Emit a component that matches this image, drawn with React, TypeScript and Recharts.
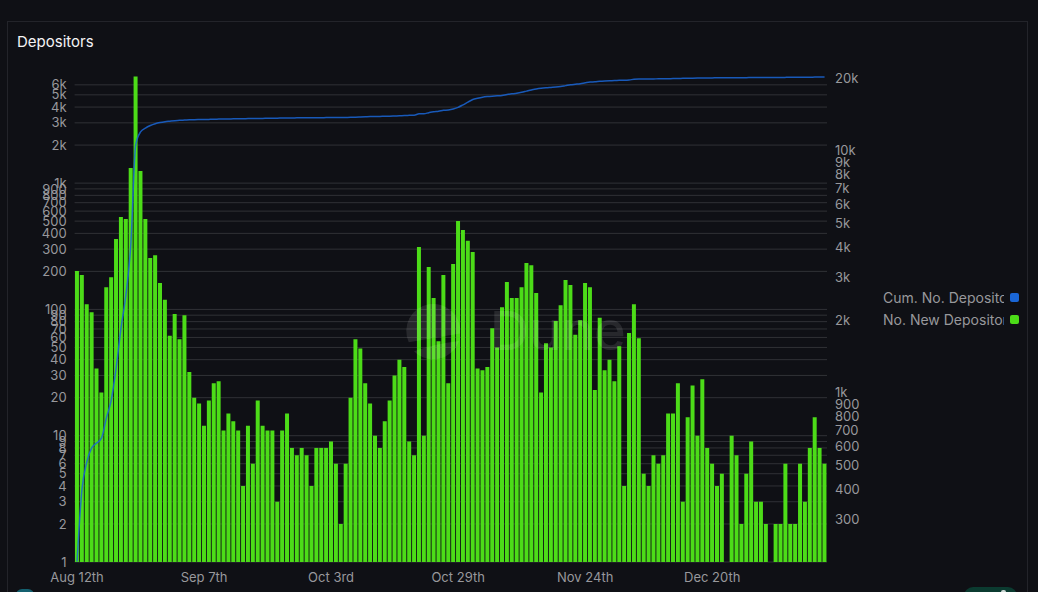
import { ComposedChart, Bar, Line, XAxis, YAxis, CartesianGrid, Legend } from 'recharts'

const days = [
  'Aug 12th', 'Aug 13th', 'Aug 14th', 'Aug 15th', 'Aug 16th', 'Aug 17th', 'Aug 18th', 'Aug 19th', 'Aug 20th', 'Aug 21st',
  'Aug 22nd', 'Aug 23rd', 'Aug 24th', 'Aug 25th', 'Aug 26th', 'Aug 27th', 'Aug 28th', 'Aug 29th', 'Aug 30th', 'Aug 31st',
  'Sep 1st', 'Sep 2nd', 'Sep 3rd', 'Sep 4th', 'Sep 5th', 'Sep 6th', 'Sep 7th', 'Sep 8th', 'Sep 9th', 'Sep 10th',
  'Sep 11th', 'Sep 12th', 'Sep 13th', 'Sep 14th', 'Sep 15th', 'Sep 16th', 'Sep 17th', 'Sep 18th', 'Sep 19th', 'Sep 20th',
  'Sep 21st', 'Sep 22nd', 'Sep 23rd', 'Sep 24th', 'Sep 25th', 'Sep 26th', 'Sep 27th', 'Sep 28th', 'Sep 29th', 'Sep 30th',
  'Oct 1st', 'Oct 2nd', 'Oct 3rd', 'Oct 4th', 'Oct 5th', 'Oct 6th', 'Oct 7th', 'Oct 8th', 'Oct 9th', 'Oct 10th',
  'Oct 11th', 'Oct 12th', 'Oct 13th', 'Oct 14th', 'Oct 15th', 'Oct 16th', 'Oct 17th', 'Oct 18th', 'Oct 19th', 'Oct 20th',
  'Oct 21st', 'Oct 22nd', 'Oct 23rd', 'Oct 24th', 'Oct 25th', 'Oct 26th', 'Oct 27th', 'Oct 28th', 'Oct 29th', 'Oct 30th',
  'Oct 31st', 'Nov 1st', 'Nov 2nd', 'Nov 3rd', 'Nov 4th', 'Nov 5th', 'Nov 6th', 'Nov 7th', 'Nov 8th', 'Nov 9th',
  'Nov 10th', 'Nov 11th', 'Nov 12th', 'Nov 13th', 'Nov 14th', 'Nov 15th', 'Nov 16th', 'Nov 17th', 'Nov 18th', 'Nov 19th',
  'Nov 20th', 'Nov 21st', 'Nov 22nd', 'Nov 23rd', 'Nov 24th', 'Nov 25th', 'Nov 26th', 'Nov 27th', 'Nov 28th', 'Nov 29th',
  'Nov 30th', 'Dec 1st', 'Dec 2nd', 'Dec 3rd', 'Dec 4th', 'Dec 5th', 'Dec 6th', 'Dec 7th', 'Dec 8th', 'Dec 9th',
  'Dec 10th', 'Dec 11th', 'Dec 12th', 'Dec 13th', 'Dec 14th', 'Dec 15th', 'Dec 16th', 'Dec 17th', 'Dec 18th', 'Dec 19th',
  'Dec 20th', 'Dec 21st', 'Dec 22nd', 'Dec 23rd', 'Dec 24th', 'Dec 25th', 'Dec 26th', 'Dec 27th', 'Dec 28th', 'Dec 29th',
  'Dec 30th', 'Dec 31st', 'Jan 1st', 'Jan 2nd', 'Jan 3rd', 'Jan 4th', 'Jan 5th', 'Jan 6th', 'Jan 7th', 'Jan 8th',
  'Jan 9th', 'Jan 10th', 'Jan 11th', 'Jan 12th',
]

const newDepositors = [
  201, 187, 110, 95, 34, 22, 150, 180, 361, 538,
  520, 1318, 7000, 1247, 520, 255, 269, 162, 119, 62,
  92, 58, 90, 32, 20, 18, 12, 19, 26, 27,
  11, 15, 13, 11, 4, 12, 6, 19, 12, 11,
  11, 3, 11, 15, 8, 7, 8, 7, 4, 8,
  8, 8, 9, 6, 2, 6, 20, 58, 49, 26,
  18, 10, 8, 13, 19, 30, 40, 35, 9, 7,
  312, 10, 217, 123, 56, 187, 26, 229, 501, 425,
  349, 285, 34, 33, 35, 71, 50, 104, 165, 123,
  123, 150, 233, 224, 135, 22, 54, 50, 81, 108,
  171, 156, 63, 82, 162, 150, 23, 86, 33, 40,
  27, 51, 4, 65, 110, 59, 5, 4, 7, 6,
  7, 15, 15, 26, 3, 14, 25, 10, 28, 8,
  6, 4, 5, 1, 10, 7, 2, 5, 9, 3,
  3, 2, 1, 2, 2, 6, 2, 2, 6, 3,
  8, 14, 8, 6,
]

const cumDepositors = [
  201, 397, 518, 592, 620, 650, 787, 934, 1265, 1853,
  2538, 4080, 10570, 11970, 12420, 12730, 12950, 13100, 13200, 13260,
  13320, 13370, 13400, 13430, 13450, 13470, 13480, 13490, 13510, 13530,
  13540, 13550, 13560, 13570, 13580, 13590, 13600, 13610, 13620, 13630,
  13640, 13650, 13660, 13670, 13680, 13690, 13695, 13700, 13705, 13710,
  13715, 13720, 13730, 13735, 13740, 13745, 13760, 13780, 13800, 13830,
  13860, 13870, 13880, 13890, 13900, 13930, 13960, 14000, 14020, 14040,
  14220, 14240, 14380, 14500, 14570, 14700, 14760, 14900, 15130, 15500,
  15900, 16300, 16500, 16660, 16760, 16830, 16880, 16950, 17100, 17200,
  17300, 17450, 17650, 17850, 18030, 18150, 18230, 18290, 18350, 18450,
  18600, 18750, 18850, 18950, 19100, 19240, 19290, 19380, 19440, 19480,
  19510, 19560, 19580, 19640, 19750, 19800, 19810, 19820, 19830, 19840,
  19850, 19870, 19890, 19920, 19930, 19950, 19970, 19980, 20000, 20010,
  20020, 20030, 20035, 20040, 20050, 20060, 20065, 20070, 20080, 20090,
  20095, 20100, 20105, 20110, 20115, 20120, 20125, 20130, 20140, 20145,
  20150, 20170, 20180, 20190,
]

const xTicks = ['Aug 12th', 'Sep 7th', 'Oct 3rd', 'Oct 29th', 'Nov 24th', 'Dec 20th']
const leftTicks = [
  1, 2, 3, 4, 5, 6, 7, 8, 9, 10, 20, 30, 40, 50, 60, 70, 80, 90, 100,
  200, 300, 400, 500, 600, 700, 800, 900, 1000, 2000, 3000, 4000, 5000, 6000,
]
const rightTicks = [300, 400, 500, 600, 700, 800, 900, 1000, 2000, 3000, 4000, 5000, 6000, 7000, 8000, 9000, 10000, 20000]

const data = days.map((day, i) => ({
  day,
  newDep: newDepositors[i],
  cum: cumDepositors[i],
}))

const font = 'Inter, sans-serif'
const grey = '#98989c'
const fmt = (v: number) => (v >= 1000 ? `${v / 1000}k` : `${v}`)

function LegendBox() {
  const rows = [
    { label: 'Cum. No. Depositors', color: '#1a66d6' },
    { label: 'No. New Depositors', color: '#4cdc18' },
  ]
  return (
    <div style={{ paddingRight: 3 }}>
      {rows.map((r) => (
        <div key={r.label} style={{ display: 'flex', alignItems: 'center', justifyContent: 'flex-end', height: 22 }}>
          <div style={{ width: 121, overflow: 'hidden', whiteSpace: 'nowrap', fontSize: 14, color: grey, fontFamily: font }}>
            {r.label}
          </div>
          <div style={{ width: 9, height: 9, borderRadius: 2, background: r.color, marginLeft: 6 }} />
        </div>
      ))}
    </div>
  )
}

// faint Dune mark sitting on top of the plot
function Watermark() {
  return (
    <svg width={1038} height={592} style={{ position: 'absolute', left: 0, top: 0, pointerEvents: 'none' }}>
      <path d="M407 336 A27 27 0 1 1 459 340 Q432 338 407 336 Z" fill="#fff" fillOpacity={0.1} transform="rotate(-14 433 332)" />
      <path d="M410 346 Q432 344 456 347 A27 27 0 0 1 410 346 Z" fill="#fff" fillOpacity={0.1} transform="rotate(-14 433 332)" />
      <text x={490} y={350} fontSize={54} fontFamily={font} fontWeight={500} fill="#fff" fillOpacity={0.1}>
        Dune
      </text>
    </svg>
  )
}

export default function App() {
  return (
    <div style={{ position: 'absolute', left: 0, top: 0, width: 1038, height: 592, background: '#0f1015', overflow: 'hidden' }}>
      <div style={{ position: 'absolute', left: 7, top: 21, width: 1021, height: 600, border: '1px solid #23242a', boxSizing: 'border-box' }} />
      <div style={{ position: 'absolute', left: 17, top: 32, fontSize: 15, fontWeight: 400, color: '#f4f4f5', fontFamily: font }}>Depositors</div>
      <ComposedChart
        width={1038}
        height={592}
        data={data}
        barCategoryGap={0.35}
        margin={{ top: 75, right: 16, left: 0, bottom: 0 }}
        style={{ position: 'absolute', left: 0, top: 0 }}
      >
        <CartesianGrid yAxisId="left" vertical={false} stroke="#303136" strokeWidth={1} syncWithTicks />
        <XAxis
          dataKey="day"
          ticks={xTicks}
          interval={0}
          height={30}
          tickLine={false}
          axisLine={false}
          tickMargin={5}
          tick={{ fontSize: 13, fill: grey, fontFamily: font }}
        />
        <YAxis
          yAxisId="left"
          scale="log"
          domain={[1, 7178]}
          ticks={leftTicks}
          interval={0}
          width={74.6}
          tickFormatter={fmt}
          tickLine={false}
          axisLine={false}
          tickMargin={2}
          allowDataOverflow
          tick={{ fontSize: 13, fill: grey, fontFamily: font }}
        />
        <YAxis
          yAxisId="right"
          orientation="right"
          scale="log"
          domain={[200, 20580]}
          ticks={rightTicks}
          interval={0}
          width={40}
          tickFormatter={fmt}
          tickLine={false}
          axisLine={false}
          tickMargin={2}
          allowDataOverflow
          tick={{ fontSize: 13, fill: grey, fontFamily: font, textAnchor: 'start' }}
        />
        <Legend layout="vertical" align="right" verticalAlign="middle" width={155} wrapperStyle={{ top: 286 }} content={<LegendBox />} />
        <Bar yAxisId="left" dataKey="newDep" fill="#4cdc18" isAnimationActive={false} />
        <Line yAxisId="right" dataKey="cum" type="monotone" stroke="#1a66d6" strokeOpacity={0.85} strokeWidth={1.5} dot={false} isAnimationActive={false} />
      </ComposedChart>
      <Watermark />
      <div style={{ position: 'absolute', left: 16, top: 589, width: 18, height: 20, borderRadius: 6, background: '#14606f' }} />
      <div style={{ position: 'absolute', left: 964, top: 587, width: 53, height: 20, borderRadius: 9, background: '#0b3b30' }} />
      <div style={{ position: 'absolute', left: 1001, top: 590, width: 5, height: 5, borderRadius: 2, background: '#c9d6d2' }} />
    </div>
  )
}
